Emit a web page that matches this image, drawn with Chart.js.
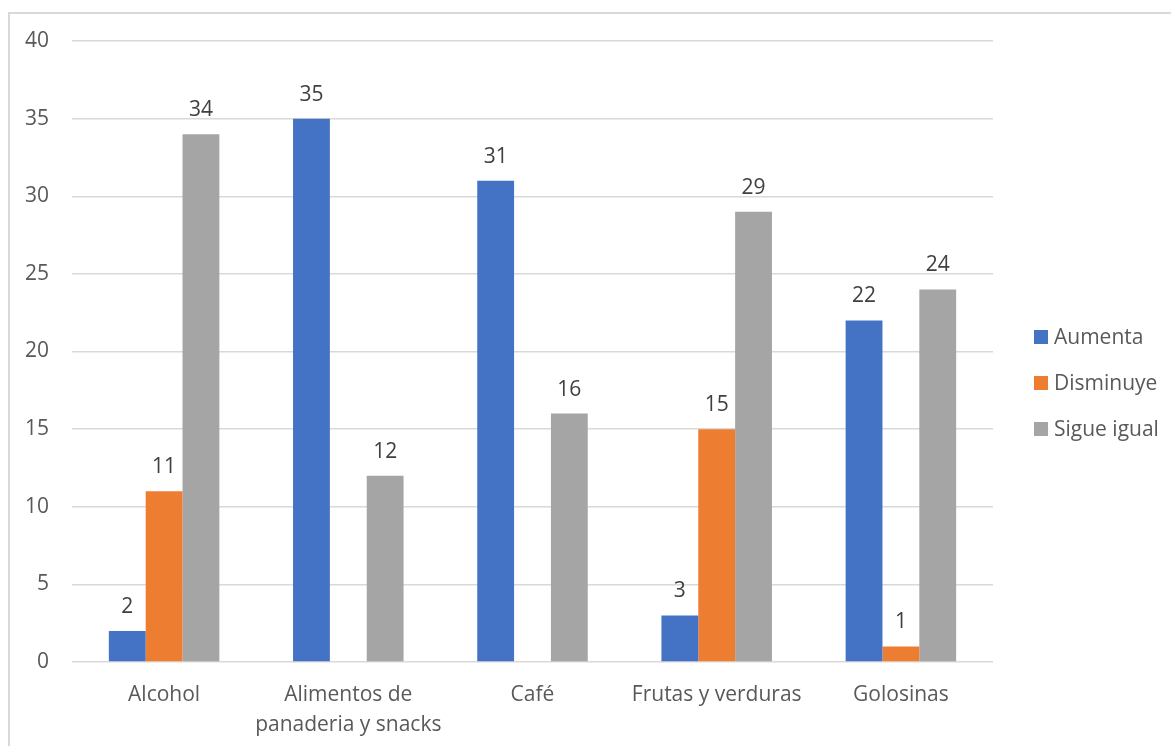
<!DOCTYPE html>
<html lang="es">
<head>
<meta charset="utf-8">
<script src="https://cdn.jsdelivr.net/npm/chart.js@4.4.1/dist/chart.umd.min.js"></script>
<style>
  html, body { margin: 0; padding: 0; background: #fff; }
  body { width: 1171px; height: 746px; position: relative; overflow: hidden; font-family: "Open Sans", sans-serif; }
  #frame { position: absolute; left: 8px; top: 12px; width: 1400px; height: 1000px; border: 2px solid #d9d9d9; box-sizing: border-box; }
  #wrap { position: absolute; left: 0; top: 0; width: 1171px; height: 746px; }
  #legend { position: absolute; left: 1034px; top: 0; }
  .item { position: absolute; left: 0; white-space: nowrap; font-size: 21px; color: #595959; line-height: 22px; height: 22px; }
  .swatch { position: absolute; left: 0; top: 4px; width: 14px; height: 14px; }
  .txt { position: absolute; left: 20px; top: -1px; }
</style>
</head>
<body>
<div id="frame"></div>
<div id="wrap"><canvas id="chart" width="1171" height="746"></canvas></div>
<div id="legend"></div>
<script>
// Consumo por categoría: cómo cambió cada producto
const categories = ["Alcohol", ["Alimentos de", "panaderia y snacks"], "Café", "Frutas y verduras", "Golosinas"];
const seriesNames = ["Aumenta", "Disminuye", "Sigue igual"];
const aumenta   = [2, 35, 31, 3, 22];
const disminuye = [11, null, null, 15, 1];
const sigueIgual = [34, 12, 16, 29, 24];
const yTicks = [0, 5, 10, 15, 20, 25, 30, 35, 40];
const colors = ["#4472C4", "#ED7D31", "#A5A5A5"];

const FONT = "'Open Sans', sans-serif";
const FONT_SIZE = 21;

// Value labels above each bar
const valueLabels = {
  id: "valueLabels",
  afterDatasetsDraw(chart) {
    const ctx = chart.ctx;
    ctx.save();
    ctx.font = FONT_SIZE + "px " + FONT;
    ctx.fillStyle = "#404040";
    ctx.textAlign = "center";
    ctx.textBaseline = "middle";
    chart.data.datasets.forEach((ds, i) => {
      const meta = chart.getDatasetMeta(i);
      meta.data.forEach((bar, j) => {
        const v = ds.data[j];
        if (v === null || v === undefined) return;
        ctx.fillText(String(v), bar.x, bar.y - 24);
      });
    });
    ctx.restore();
  }
};

const chart = new Chart(document.getElementById("chart"), {
  type: "bar",
  data: {
    labels: categories,
    datasets: [
      { label: seriesNames[0], data: aumenta, backgroundColor: colors[0] },
      { label: seriesNames[1], data: disminuye, backgroundColor: colors[1] },
      { label: seriesNames[2], data: sigueIgual, backgroundColor: colors[2] }
    ]
  },
  options: {
    responsive: false,
    animation: false,
    layout: { padding: { top: 41, right: 178, bottom: 0, left: 0 } },
    datasets: { bar: { categoryPercentage: 0.6, barPercentage: 1.0 } },
    plugins: { legend: { display: false }, tooltip: { enabled: false } },
    scales: {
      x: {
        grid: { display: false },
        border: { display: false },
        ticks: { color: "#595959", font: { family: FONT, size: FONT_SIZE, lineHeight: 1.43 }, padding: 10, maxRotation: 0, autoSkip: false },
        afterFit(s) { s.height = 84; }
      },
      y: {
        min: 0, max: 40,
        afterBuildTicks(s) { s.ticks = yTicks.map(v => ({ value: v })); },
        grid: { color: "#d9d9d9", lineWidth: 1.5, drawTicks: false },
        border: { display: false },
        ticks: { color: "#595959", font: { family: FONT, size: FONT_SIZE }, padding: 23 },
        afterFit(s) { s.width = 72; }
      }
    }
  },
  plugins: [valueLabels]
});

// Legend on the right, built from the series names and colours
const legend = document.getElementById("legend");
const legendTops = [326, 372, 418];
seriesNames.forEach((name, i) => {
  const item = document.createElement("div");
  item.className = "item";
  item.style.top = legendTops[i] + "px";
  const sw = document.createElement("span");
  sw.className = "swatch";
  sw.style.background = colors[i];
  const t = document.createElement("span");
  t.className = "txt";
  t.textContent = name;
  item.appendChild(sw);
  item.appendChild(t);
  legend.appendChild(item);
});
</script>
</body>
</html>
